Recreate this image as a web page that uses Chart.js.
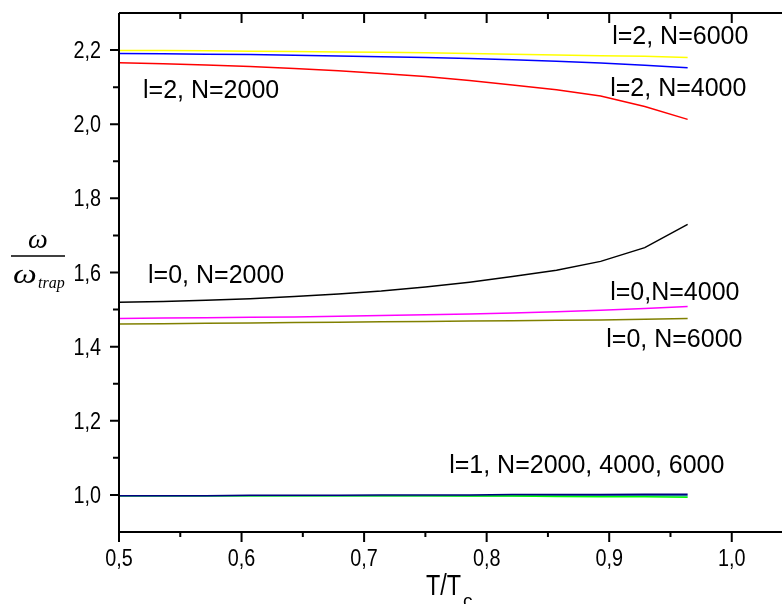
<!DOCTYPE html>
<html>
<head>
<meta charset="utf-8">
<script src="https://cdn.jsdelivr.net/npm/chart.js@4.4.1/dist/chart.umd.min.js"></script>
<style>
    html, body { margin: 0; padding: 0; background: #fff; }
    #wrap { width: 782px; height: 604px; position: relative; }
</style>
</head>
<body>
<div id="wrap"><canvas id="myChart"></canvas></div>
<script>
// T/Tc sample points
var tVals = [0.5, 0.536, 0.571, 0.607, 0.643, 0.679, 0.714, 0.75, 0.786, 0.821, 0.857, 0.893, 0.929, 0.964];

// l=2
var l2n6000 = [2.199, 2.199, 2.198, 2.197, 2.196, 2.195, 2.194, 2.193, 2.191, 2.189, 2.187, 2.185, 2.183, 2.180];
var l2n4000 = [2.191, 2.190, 2.189, 2.188, 2.186, 2.184, 2.182, 2.180, 2.177, 2.174, 2.170, 2.165, 2.159, 2.152];
var l2n2000 = [2.166, 2.163, 2.160, 2.156, 2.150, 2.144, 2.137, 2.129, 2.118, 2.106, 2.093, 2.076, 2.048, 2.013];
// l=0
var l0n2000 = [1.520, 1.522, 1.525, 1.529, 1.535, 1.542, 1.550, 1.561, 1.574, 1.589, 1.606, 1.630, 1.667, 1.730];
var l0n4000 = [1.476, 1.477, 1.478, 1.479, 1.480, 1.482, 1.484, 1.486, 1.488, 1.491, 1.494, 1.498, 1.503, 1.508];
var l0n6000 = [1.461, 1.462, 1.463, 1.464, 1.465, 1.466, 1.467, 1.468, 1.469, 1.470, 1.471, 1.472, 1.474, 1.476];
// l=1
var l1n2000 = [0.998, 0.998, 0.998, 0.999, 0.999, 0.999, 1.000, 1.000, 1.000, 1.001, 1.001, 1.001, 1.002, 1.002];
var l1n4000 = [0.998, 0.998, 0.998, 0.998, 0.998, 0.998, 0.998, 0.998, 0.998, 0.998, 0.998, 0.998, 0.998, 0.998];
var l1n6000 = [0.998, 0.998, 0.998, 0.998, 0.998, 0.998, 0.998, 0.998, 0.997, 0.997, 0.996, 0.995, 0.995, 0.994];

var xTicks = [0.5, 0.6, 0.7, 0.8, 0.9, 1.0];
var yTicks = [1.0, 1.2, 1.4, 1.6, 1.8, 2.0, 2.2];

// curve labels: text, x (T), y (omega), anchored left / baseline
var curveLabels = [
    ['l=2, N=6000', 0.9024, 2.217],
    ['l=2, N=4000', 0.9008, 2.077],
    ['l=2, N=2000', 0.5196, 2.071],
    ['l=0, N=2000', 0.5237, 1.571],
    ['l=0,N=4000', 0.9008, 1.525],
    ['l=0, N=6000', 0.8976, 1.398],
    ['l=1, N=2000, 4000, 6000', 0.7694, 1.059]
];

function pts(ys) {
    return tVals.map((t, i) => ({ x: t, y: ys[i] }));
}

function serie(ys, color) {
    return {
        data: pts(ys),
        borderColor: color,
        backgroundColor: color,
        borderWidth: 1.5,
        showLine: true,
        pointRadius: 0,
        tension: 0
    };
}

function fmt(v) {
    return v.toFixed(1).replace('.', ',');
}

const SANS = '"Liberation Sans", Arial, sans-serif';
const SERIF = '"Liberation Serif", "Times New Roman", serif';

// draws text squeezed horizontally
function narrowText(ctx, txt, x, y, sx) {
    ctx.save();
    ctx.translate(x, y);
    ctx.scale(sx, 1);
    ctx.fillText(txt, 0, 0);
    ctx.restore();
}

const axesPlugin = {
    id: 'axesPlugin',
    afterDraw(chart) {
        const ctx = chart.ctx;
        const a = chart.chartArea;
        const sx = chart.scales.x;
        const sy = chart.scales.y;
        ctx.save();
        ctx.strokeStyle = '#000';
        ctx.lineWidth = 2;
        ctx.beginPath();
        ctx.moveTo(a.left, a.top);
        ctx.lineTo(a.left, a.bottom);
        ctx.lineTo(a.right, a.bottom);
        ctx.moveTo(a.left, a.top);
        ctx.lineTo(a.right, a.top);
        ctx.stroke();

        // x ticks (major + minor), bottom outward and top inward
        ctx.beginPath();
        xTicks.forEach(v => {
            let px = sx.getPixelForValue(v);
            ctx.moveTo(px, a.bottom); ctx.lineTo(px, a.bottom + 10);
            ctx.moveTo(px, a.top); ctx.lineTo(px, a.top + 10);
            let m = sx.getPixelForValue(v + 0.05);
            if (m < a.right) {
                ctx.moveTo(m, a.bottom); ctx.lineTo(m, a.bottom + 5);
                ctx.moveTo(m, a.top); ctx.lineTo(m, a.top + 6);
            }
        });
        // y ticks
        yTicks.forEach(v => {
            let py = sy.getPixelForValue(v);
            ctx.moveTo(a.left - 9, py); ctx.lineTo(a.left, py);
            let m = sy.getPixelForValue(v + 0.1);
            if (m > a.top) {
                ctx.moveTo(a.left - 6, m); ctx.lineTo(a.left, m);
            }
        });
        ctx.stroke();

        // tick labels
        ctx.fillStyle = '#000';
        ctx.font = '23px ' + SANS;
        ctx.textAlign = 'center';
        ctx.textBaseline = 'alphabetic';
        xTicks.forEach(v => {
            narrowText(ctx, fmt(v), sx.getPixelForValue(v), 566, 0.86);
        });
        ctx.textAlign = 'right';
        yTicks.forEach(v => {
            narrowText(ctx, fmt(v), 101, sy.getPixelForValue(v) + 8, 0.86);
        });

        // curve labels
        ctx.font = '25px ' + SANS;
        ctx.textAlign = 'left';
        curveLabels.forEach(l => {
            ctx.fillText(l[0], sx.getPixelForValue(l[1]), sy.getPixelForValue(l[2]));
        });

        // x title T/Tc
        ctx.font = '30px ' + SANS;
        narrowText(ctx, 'T/T', 426, 595, 0.78);
        ctx.font = '19px ' + SANS;
        ctx.fillText('c', 463, 607);

        // y title omega / omega_trap
        ctx.font = 'italic 28px ' + SERIF;
        ctx.textAlign = 'center';
        ctx.fillText('\u03c9', 38, 248);
        ctx.lineWidth = 1.5;
        ctx.beginPath();
        ctx.moveTo(11, 256);
        ctx.lineTo(65, 256);
        ctx.stroke();
        ctx.textAlign = 'left';
        narrowText(ctx, '\u03c9', 13, 283, 1.2);
        ctx.font = 'italic 16px ' + SERIF;
        ctx.fillText('trap', 38, 288);
        ctx.restore();
    }
};

const config = {
    type: 'scatter',
    data: {
        datasets: [
            serie(l2n6000, '#ffff00'),
            serie(l2n4000, '#0000ff'),
            serie(l2n2000, '#ff0000'),
            serie(l0n2000, '#000000'),
            serie(l0n4000, '#ff00ff'),
            serie(l0n6000, '#808000'),
            serie(l1n2000, '#000080'),
            serie(l1n6000, '#00ff00'),
            serie(l1n4000, '#1f6fa0')
        ]
    },
    options: {
        responsive: true,
        maintainAspectRatio: false,
        animation: false,
        layout: { padding: { top: 13, right: 0, left: 0, bottom: 0 } },
        plugins: {
            legend: { display: false },
            tooltip: { enabled: false },
            title: { display: false }
        },
        scales: {
            x: {
                type: 'linear',
                min: 0.5,
                max: 1.041,
                border: { display: false },
                grid: { display: false, drawTicks: false },
                ticks: { display: false },
                afterFit: s => { s.height = 72; }
            },
            y: {
                type: 'linear',
                min: 0.9,
                max: 2.3,
                border: { display: false },
                grid: { display: false, drawTicks: false },
                ticks: { display: false },
                afterFit: s => { s.width = 119; }
            }
        }
    },
    plugins: [axesPlugin]
};

var myChart = new Chart(document.getElementById('myChart'), config);
</script>
</body>
</html>
